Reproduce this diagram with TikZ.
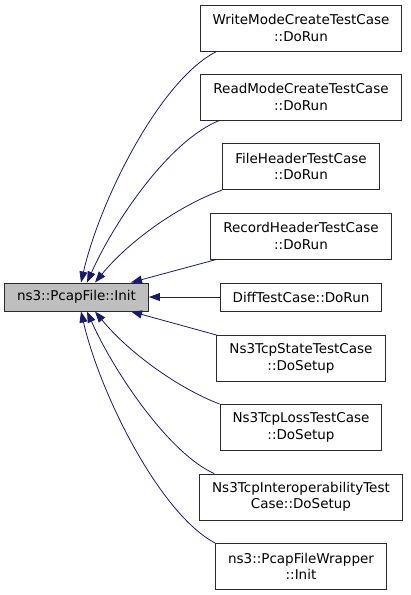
\documentclass[tikz,border=0pt]{standalone}
\usepackage{fontspec}
\setmainfont{DejaVu Sans}
\usetikzlibrary{arrows.meta}
\definecolor{edgecol}{HTML}{191970}
\definecolor{boxline}{HTML}{2A2A2A}
\definecolor{mainfill}{HTML}{BFBFBF}
\tikzset{
  box/.style={draw=boxline, line width=1pt, fill=white, align=center,
    font=\fontsize{13.5}{16.5}\selectfont, inner xsep=12.5pt, inner ysep=0pt, anchor=center},
  twoline/.style={minimum height=46pt},
  oneline/.style={minimum height=28pt},
  edge/.style={draw=edgecol, line width=0.8pt, -{Triangle[length=11pt,width=8pt]}},
}
\begin{document}
\begin{tikzpicture}[x=1pt,y=-1pt]
\useasboundingbox (0,0) rectangle (411,595);
\node[box, oneline, fill=mainfill, minimum width=143pt] (main) at (76.5,297) {ns3::PcapFile::Init};
\node[box, twoline] (wm) at (301,28) {WriteModeCreateTestCase\\::DoRun};
\node[box, twoline] (rm) at (301,97) {ReadModeCreateTestCase\\::DoRun};
\node[box, twoline] (fh) at (301,166.5) {FileHeaderTestCase\\::DoRun};
\node[box, twoline] (rh) at (301,236) {RecordHeaderTestCase\\::DoRun};
\node[box, oneline] (diff) at (301,297) {DiffTestCase::DoRun};
\node[box, twoline] (st) at (301,358.5) {Ns3TcpStateTestCase\\::DoSetup};
\node[box, twoline] (loss) at (301,427.5) {Ns3TcpLossTestCase\\::DoSetup};
\node[box, twoline] (io) at (301,497) {Ns3TcpInteroperabilityTest\\Case::DoSetup};
\node[box, twoline] (wr) at (301,566.5) {ns3::PcapFileWrapper\\::Init};

\draw[edge] ([xshift=17pt]wm.south west) .. controls (160,80) and (100,200) .. ([xshift=77pt]main.north west);
\draw[edge] ([xshift=19pt]rm.south west) .. controls (170,140) and (115,220) .. ([xshift=83pt]main.north west);
\draw[edge] (fh.south west) .. controls (180,205) and (130,240) .. ([xshift=91pt]main.north west);
\draw[edge] ([xshift=6pt]rh.south west) -- ([xshift=127pt]main.north west);
\draw[edge] (diff.west) -- (main.east);
\draw[edge] (st.north west) -- ([xshift=127pt]main.south west);
\draw[edge] (loss.north west) .. controls (180,389) and (130,354) .. ([xshift=91pt]main.south west);
\draw[edge] ([xshift=15pt]io.north west) .. controls (170,454) and (115,374) .. ([xshift=83pt]main.south west);
\draw[edge] (wr.north west) .. controls (160,514) and (100,394) .. ([xshift=77pt]main.south west);
\end{tikzpicture}
\end{document}
